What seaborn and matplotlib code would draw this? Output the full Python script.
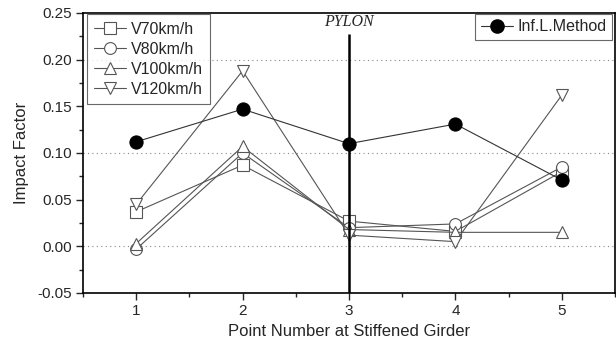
import matplotlib
matplotlib.use("Agg")
import matplotlib.pyplot as plt
import seaborn as sns
import pandas as pd
from matplotlib.ticker import MultipleLocator
from matplotlib.lines import Line2D

points = [1, 2, 3, 4, 5]
v70 = [0.037, 0.087, 0.027, 0.016, 0.080]
v80 = [-0.003, 0.100, 0.020, 0.024, 0.085]
v100 = [0.003, 0.107, 0.018, 0.015, 0.015]
v120 = [0.045, 0.188, 0.012, 0.005, 0.162]
inf_l = [0.112, 0.147, 0.110, 0.131, 0.071]
series_names = ["V70km/h", "V80km/h", "V100km/h", "V120km/h"]
inf_name = "Inf.L.Method"
pylon_x = 3
pylon_top = 0.228

sns.set_theme(style="ticks")
plt.rcParams['font.family'] = ['Liberation Sans', 'DejaVu Sans']

fig = plt.figure(figsize=(6.16, 3.47), dpi=100)
ax = fig.add_axes([83/616, 1-293/347, (615-83)/616, (293-13)/347])

styles = [("s", "#555555"), ("o", "#555555"), ("^", "#555555"), ("v", "#555555")]
handles = []
for vals, name, (mk, col) in zip([v70, v80, v100, v120], series_names, styles):
    df = pd.DataFrame({"x": points, "y": vals})
    sns.lineplot(data=df, x="x", y="y", ax=ax, color=col, lw=0.8,
                 marker=mk, markersize=8.5, markerfacecolor="white",
                 markeredgecolor="#555555", markeredgewidth=0.8, zorder=3)
    handles.append(Line2D([], [], color=col, lw=0.8, marker=mk, markersize=8.5,
                          markerfacecolor="white", markeredgecolor="#555555",
                          markeredgewidth=0.8, label=name))

df = pd.DataFrame({"x": points, "y": inf_l})
sns.lineplot(data=df, x="x", y="y", ax=ax, color="#333333", lw=0.8,
             marker="o", markersize=9.5, markerfacecolor="black",
             markeredgecolor="black", zorder=4)
inf_handle = Line2D([], [], color="#333333", lw=0.8, marker="o", markersize=9.5,
                    markerfacecolor="black", markeredgecolor="black", label=inf_name)

ax.vlines(pylon_x, -0.05, pylon_top, color="black", lw=1.8, zorder=5)
ax.text(pylon_x, 0.232, "PYLON", ha="center", va="bottom", fontsize=11.5,
        family=["Liberation Serif"], style="italic")

ax.set_xlim(0.5, 5.5)
ax.set_ylim(-0.05, 0.25)
ax.xaxis.set_major_locator(MultipleLocator(1))
ax.xaxis.set_minor_locator(MultipleLocator(0.5))
ax.yaxis.set_major_locator(MultipleLocator(0.05))
ax.yaxis.set_minor_locator(MultipleLocator(0.025))
ax.yaxis.set_major_formatter(matplotlib.ticker.FormatStrFormatter("%.2f"))
for gy in [0.0, 0.1, 0.2]:
    ax.axhline(gy, color="#888888", lw=0.8, ls=(0, (1, 3)), zorder=1)
ax.tick_params(which="major", direction="out", length=5, width=1, labelsize=11, pad=3)
ax.tick_params(which="minor", direction="out", length=3, width=1)
for s in ax.spines.values():
    s.set_linewidth(1.2)
    s.set_color("black")
ax.set_xlabel("Point Number at Stiffened Girder", fontsize=12, labelpad=4)
ax.set_ylabel("Impact Factor", fontsize=12, labelpad=6)

leg1 = ax.legend(handles=handles, loc="upper left", bbox_to_anchor=(0.008, 0.995),
                 fontsize=11.5, frameon=True, fancybox=False, edgecolor="#444444",
                 handlelength=2.0, handletextpad=0.3, borderpad=0.45,
                 labelspacing=0.32, borderaxespad=0)
leg1.get_frame().set_linewidth(0.8)
ax.add_artist(leg1)
leg2 = ax.legend(handles=[inf_handle], loc="upper right", bbox_to_anchor=(0.995, 0.998),
                 fontsize=11.5, frameon=True, fancybox=False, edgecolor="#444444",
                 handlelength=2.0, handletextpad=0.3, borderpad=0.35, borderaxespad=0)
leg2.get_frame().set_linewidth(0.8)

fig.savefig("out.png", dpi=100)
